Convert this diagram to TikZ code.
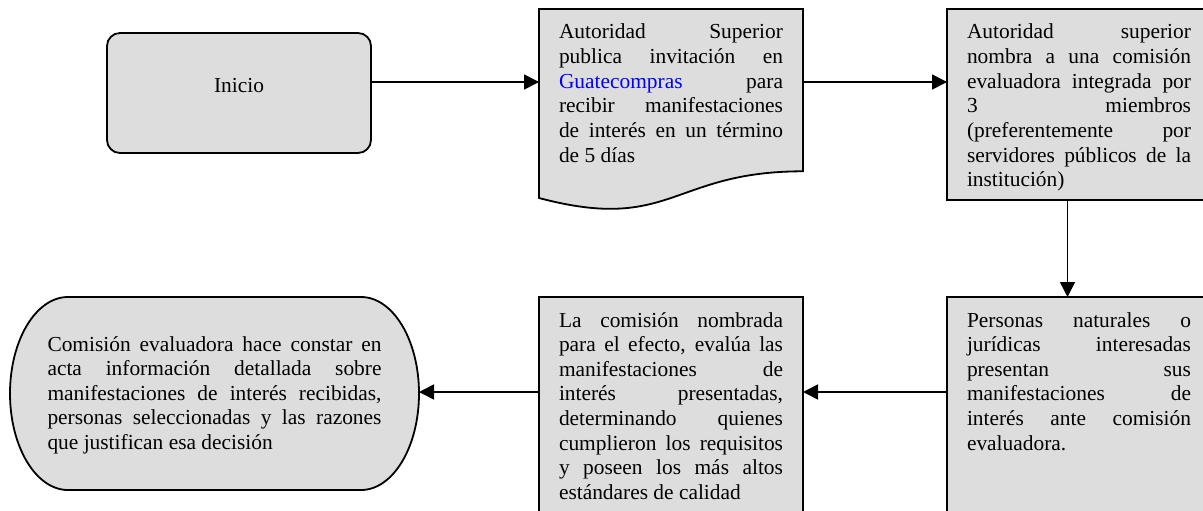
\documentclass[tikz,border=0pt]{standalone}
\usepackage{fontspec}
\setmainfont{Liberation Serif}
\usetikzlibrary{arrows.meta, calc, backgrounds}
\definecolor{grisfondo}{HTML}{DDDDDD}

\begin{document}
\begin{tikzpicture}[x=0.5pt, y=0.5pt,
    texto/.style={font={\fontsize{10.7pt}{12.3pt}\selectfont\tolerance=10000 \hbadness=10000 \hyphenpenalty=10000 }},
    caja/.style={texto, draw, fill=grisfondo, line width=0.9pt, anchor=north west, text width=112pt, align=justify, inner xsep=10pt, inner ysep=0pt, outer sep=0pt, text height=15pt},
    borde/.style={draw, fill=grisfondo, line width=0.9pt},
    flecha/.style={-{Triangle[length=7.5pt, width=7.5pt]}, line width=0.8pt}]
    \useasboundingbox (0,0) rectangle (1203,510);
    \clip (0,0) rectangle (1203,510);
    \node[texto, draw, fill=grisfondo, line width=0.9pt, outer sep=0pt, rounded corners=6.5pt, minimum width=132pt, minimum height=60pt, text height=7pt, text depth=7pt] (ini) at (239,417) {Inicio};
    \node[caja, draw=none, fill=none] (doc) at (539,501) {Autoridad Superior\linebreak publica invitación en\linebreak \textcolor{blue}{Guatecompras} para\linebreak recibir manifestaciones\linebreak de interés en un término\linebreak de 5 días};
    \node[caja, text depth=80.5pt] (nom) at (947,501) {Autoridad superior\linebreak nombra a una comisión\linebreak evaluadora integrada por\linebreak 3 miembros\linebreak (preferentemente por\linebreak servidores públicos de la\linebreak institución)};
    \node[caja, text depth=105pt] (pre) at (947,213) {Personas naturales o\linebreak jurídicas interesadas\linebreak presentan sus\linebreak manifestaciones de\linebreak interés ante comisión\linebreak evaluadora.};
    \node[caja, text depth=105pt] (eva) at (539,213) {La comisión nombrada\linebreak para el efecto, evalúa las\linebreak manifestaciones de\linebreak interés presentadas,\linebreak determinando quienes\linebreak cumplieron los requisitos\linebreak y poseen los más altos\linebreak estándares de calidad};
    \node[caja, draw=none, fill=none, text width=167pt, inner xsep=18.75pt, text height=27pt, text depth=69.5pt] (fin) at (10,213) {Comisión evaluadora hace constar en\linebreak acta información detallada sobre\linebreak manifestaciones de interés recibidas,\linebreak personas seleccionadas y las razones\linebreak que justifican esa decisión};
    \begin{pgfonlayer}{background}
        \draw[borde] (doc.north west) -- (doc.north east) -- ($(doc.north east)+(0,-162.3)$) .. controls ($(doc.north west)+(132.5,-162.3)$) and ($(doc.north west)+(132.5,-224.2)$) .. ($(doc.north west)+(0,-189)$) -- cycle;
        \draw[borde] ($(fin.north west)+(58,0)$) -- ($(fin.north east)+(-58,0)$) arc[start angle=90, end angle=-90, x radius=58, y radius=96.5] -- ($(fin.south west)+(58,0)$) arc[start angle=270, end angle=90, x radius=58, y radius=96.5] -- cycle;
    \end{pgfonlayer}
    \coordinate (f1) at ([yshift=5.5pt]ini.east);
    \coordinate (f3) at ([xshift=-5.75pt]nom.south);
    \coordinate (f4) at ([yshift=-47.5pt]pre.north west);
    \draw[flecha] (f1) -- (f1 -| doc.west);
    \draw[flecha] (f1 -| doc.east) -- (f1 -| nom.west);
    \draw[flecha] (f3) -- (f3 |- pre.north);
    \draw[flecha] (f4) -- (f4 -| eva.east);
    \draw[flecha] (f4 -| eva.west) -- (f4 -| fin.east);
\end{tikzpicture}
\end{document}
